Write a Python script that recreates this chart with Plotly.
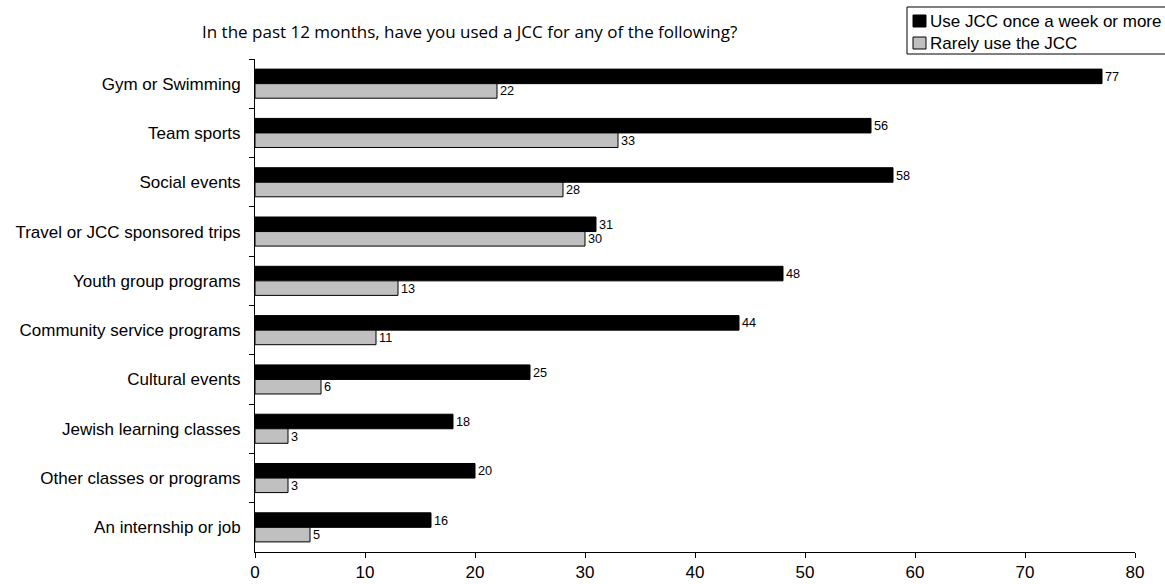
import plotly.graph_objects as go

categories = [
    "Gym or Swimming",
    "Team sports",
    "Social events",
    "Travel or JCC sponsored trips",
    "Youth group programs",
    "Community service programs",
    "Cultural events",
    "Jewish learning classes",
    "Other classes or programs",
    "An internship or job",
]
weekly_users = [77, 56, 58, 31, 48, 44, 25, 18, 20, 16]
rare_users = [22, 33, 28, 30, 13, 11, 6, 3, 3, 5]

series_names = ["Use JCC once a week or more", "Rarely use the JCC"]
series_colors = ["#000000", "#C0C0C0"]
title_text = "In the past 12 months, have you used a JCC for any of the following?"

FONT = "Liberation Sans, Arial, sans-serif"

W, H = 1165, 584
ML, MR, MT, MB = 255, 30, 59, 32
PW, PH = W - ML - MR, H - MT - MB


def px(x):
    """Pixel x -> paper x."""
    return (x - ML) / PW


def py(y):
    """Pixel y (from top) -> paper y."""
    return (H - MB - y) / PH


fig = go.Figure()
for vals, name, color in zip([weekly_users, rare_users], series_names, series_colors):
    fig.add_trace(go.Bar(
        y=categories, x=vals, orientation="h", name=name,
        marker=dict(color=color, line=dict(color="#000000", width=1)),
        text=vals, textposition="outside", cliponaxis=False,
        textfont=dict(family=FONT, size=14, color="#000000"),
        showlegend=False,
    ))

# Legend box drawn by hand, partly running off the right edge
shapes = [dict(
    type="rect", xref="paper", yref="paper",
    x0=px(907), x1=px(1175), y0=py(54), y1=py(7),
    line=dict(color="#000000", width=1), fillcolor="white", layer="above",
)]
annotations = []
for i, (name, color) in enumerate(zip(series_names, series_colors)):
    cy = 21 + i * 22
    shapes.append(dict(
        type="rect", xref="paper", yref="paper",
        x0=px(913), x1=px(926), y0=py(cy + 6), y1=py(cy - 6),
        line=dict(color="#000000", width=1), fillcolor=color, layer="above",
    ))
    annotations.append(dict(
        text=name, xref="paper", yref="paper", x=px(928), y=py(cy),
        xanchor="left", yanchor="middle", showarrow=False,
        font=dict(family=FONT, size=17, color="#000000"),
    ))

annotations.append(dict(
    text=title_text, xref="paper", yref="paper",
    x=px(200), y=py(31), xanchor="left", yanchor="middle",
    showarrow=False, font=dict(family="Open Sans, sans-serif", size=17, color="#000000"),
))

fig.update_layout(
    width=W, height=H,
    margin=dict(l=ML, r=MR, t=MT, b=MB, autoexpand=False),
    paper_bgcolor="white", plot_bgcolor="white",
    barmode="group", bargap=0.41, bargroupgap=0,
    font=dict(family=FONT, size=17, color="#000000"),
    shapes=shapes, annotations=annotations,
)

fig.update_xaxes(
    range=[0, 80], dtick=10, showgrid=False, zeroline=False,
    showline=True, linecolor="#000000", linewidth=1,
    ticks="outside", ticklen=5, tickcolor="#000000",
    tickfont=dict(family=FONT, size=17),
)
fig.update_yaxes(
    autorange="reversed", showgrid=False,
    showline=True, linecolor="#000000", linewidth=1,
    ticks="outside", ticklen=5, tickcolor="#000000",
    tickson="boundaries", ticklabelstandoff=10,
    tickfont=dict(family=FONT, size=17),
)

fig.write_html("out.html")
